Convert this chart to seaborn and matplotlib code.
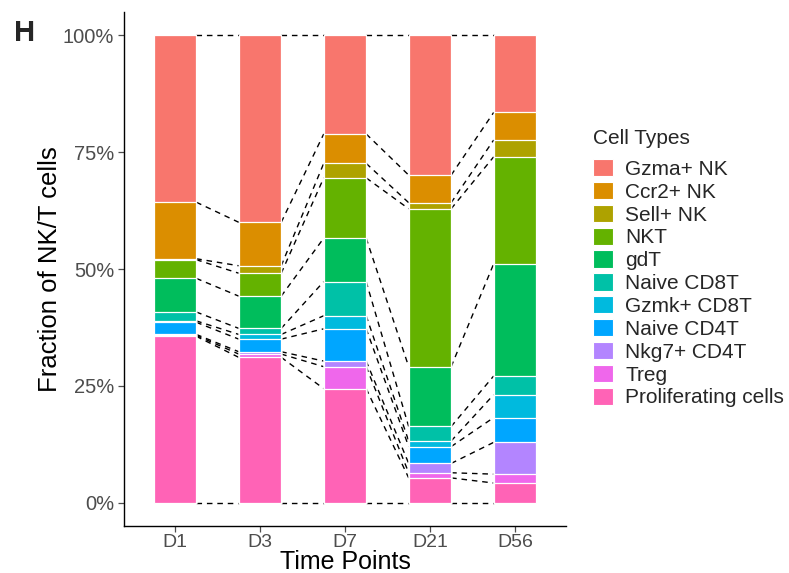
import numpy as np
import pandas as pd
import matplotlib
matplotlib.use("Agg")
import matplotlib.pyplot as plt
from matplotlib.patches import Patch
import seaborn as sns

# Time points and cell types (legend order = top of stack first)
time_points = ["D1", "D3", "D7", "D21", "D56"]
cell_types = ["Gzma+ NK", "Ccr2+ NK", "Sell+ NK", "NKT", "gdT", "Naive CD8T",
              "Gzmk+ CD8T", "Naive CD4T", "Nkg7+ CD4T", "Treg", "Proliferating cells"]
type_colors = ["#F8766D", "#DB8E00", "#AEA200", "#64B200", "#00BD5C", "#00C1A7",
               "#00BADE", "#00A6FF", "#B385FF", "#EF67EB", "#FF63B6"]

# Percent of NK/T cells per cell type at each time point
gzma_nk = [35.7, 40.0, 21.1, 29.9, 16.5]
ccr2_nk = [12.1, 9.3, 6.3, 5.9, 5.9]
sell_nk = [0.2, 1.6, 3.1, 1.3, 3.6]
nkt = [4.0, 4.9, 12.9, 33.8, 22.9]
gdt = [7.2, 6.9, 9.3, 12.8, 24.0]
naive_cd8t = [1.9, 1.3, 7.3, 3.1, 4.0]
gzmk_cd8t = [0.3, 1.0, 2.8, 1.2, 4.9]
naive_cd4t = [2.6, 2.7, 6.9, 3.6, 5.3]
nkg7_cd4t = [0.2, 0.5, 1.2, 2.0, 6.8]
treg = [0.2, 0.7, 4.7, 1.1, 1.9]
proliferating = [35.6, 31.1, 24.4, 5.3, 4.2]

series = [gzma_nk, ccr2_nk, sell_nk, nkt, gdt, naive_cd8t,
          gzmk_cd8t, naive_cd4t, nkg7_cd4t, treg, proliferating]

df = pd.DataFrame(
    {"time": np.repeat(time_points, len(cell_types)),
     "type": cell_types * len(time_points),
     "pct": [series[j][i] for i in range(len(time_points)) for j in range(len(cell_types))]}
)
df["type"] = pd.Categorical(df["type"], categories=cell_types, ordered=True)
df["time"] = pd.Categorical(df["time"], categories=time_points, ordered=True)

# Cumulative top of each segment, stacking from the bottom (last type) upward
wide = df.pivot(index="time", columns="type", values="pct")[cell_types[::-1]]
wide = wide.div(wide.sum(axis=1), axis=0) * 100
cum = wide.cumsum(axis=1)

sns.set_theme(style="white")
plt.rcParams["font.family"] = ["Liberation Sans", "DejaVu Sans"]

fig = plt.figure(figsize=(7.89, 5.73), dpi=100)
ax = fig.add_axes([0.1572, 0.082, 0.560, 0.897])

bar_w = 0.5
color_of = dict(zip(cell_types, type_colors))
# Draw tallest cumulative bars first so each lower segment sits on top
for t in cell_types:
    tops = cum[t].reset_index()
    tops.columns = ["time", "top"]
    sns.barplot(data=tops, x="time", y="top", order=time_points, color=color_of[t],
                width=bar_w, edgecolor="white", linewidth=0.9, saturation=1,
                errorbar=None, ax=ax, zorder=2)

# Dashed connectors between segment boundaries of neighbouring bars
bounds = np.hstack([np.zeros((len(time_points), 1)), cum.values])
for k in range(bounds.shape[1]):
    for i in range(len(time_points) - 1):
        ax.plot([i + bar_w / 2, i + 1 - bar_w / 2], [bounds[i, k], bounds[i + 1, k]],
                color="black", lw=1.0, ls=(0, (4, 3.5)), zorder=1)

ax.set_xlim(-0.6, len(time_points) - 0.4)
ax.set_ylim(-5, 105)
ax.set_yticks([0, 25, 50, 75, 100])
ax.set_yticklabels(["0%", "25%", "50%", "75%", "100%"])
ax.tick_params(axis="y", colors="#4D4D4D", labelsize=14.5, length=4, width=0.9,
               direction="out", left=True, pad=3)
ax.tick_params(axis="x", colors="#4D4D4D", labelsize=14, length=4, width=0.9,
               direction="out", bottom=True, pad=2)
for lab in ax.get_xticklabels() + ax.get_yticklabels():
    lab.set_color("#4D4D4D")
for s in ["top", "right"]:
    ax.spines[s].set_visible(False)
for s in ["left", "bottom"]:
    ax.spines[s].set_color("black")
    ax.spines[s].set_linewidth(1.0)

ax.set_xlabel("Time Points", fontsize=18, color="black")
ax.xaxis.label.set_va("baseline")
ax.xaxis.set_label_coords(0.5, -0.0846)
ax.set_ylabel("Fraction of NK/T cells", fontsize=18.5, color="black")
ax.yaxis.label.set_va("center")
ax.yaxis.set_label_coords(-0.167, 0.5)

# Legend: title as its own text, keys listed below it
fig.text(593 / 789, 1 - 138 / 573, "Cell Types", fontsize=15, va="center", ha="left")
handles = [Patch(facecolor=c, edgecolor="white", linewidth=0.8) for c in type_colors]
fig.legend(handles, cell_types, loc="upper left",
           bbox_to_anchor=(593 / 789, 1 - 159 / 573), frameon=False,
           fontsize=15, handlelength=0.95, handleheight=0.9,
           handletextpad=0.6, labelspacing=0.145, borderpad=0, borderaxespad=0)

fig.text(14 / 789, 1 - 33 / 573, "H", fontsize=21, fontweight="bold", va="center", ha="left")

fig.savefig("out.png", dpi=100)
